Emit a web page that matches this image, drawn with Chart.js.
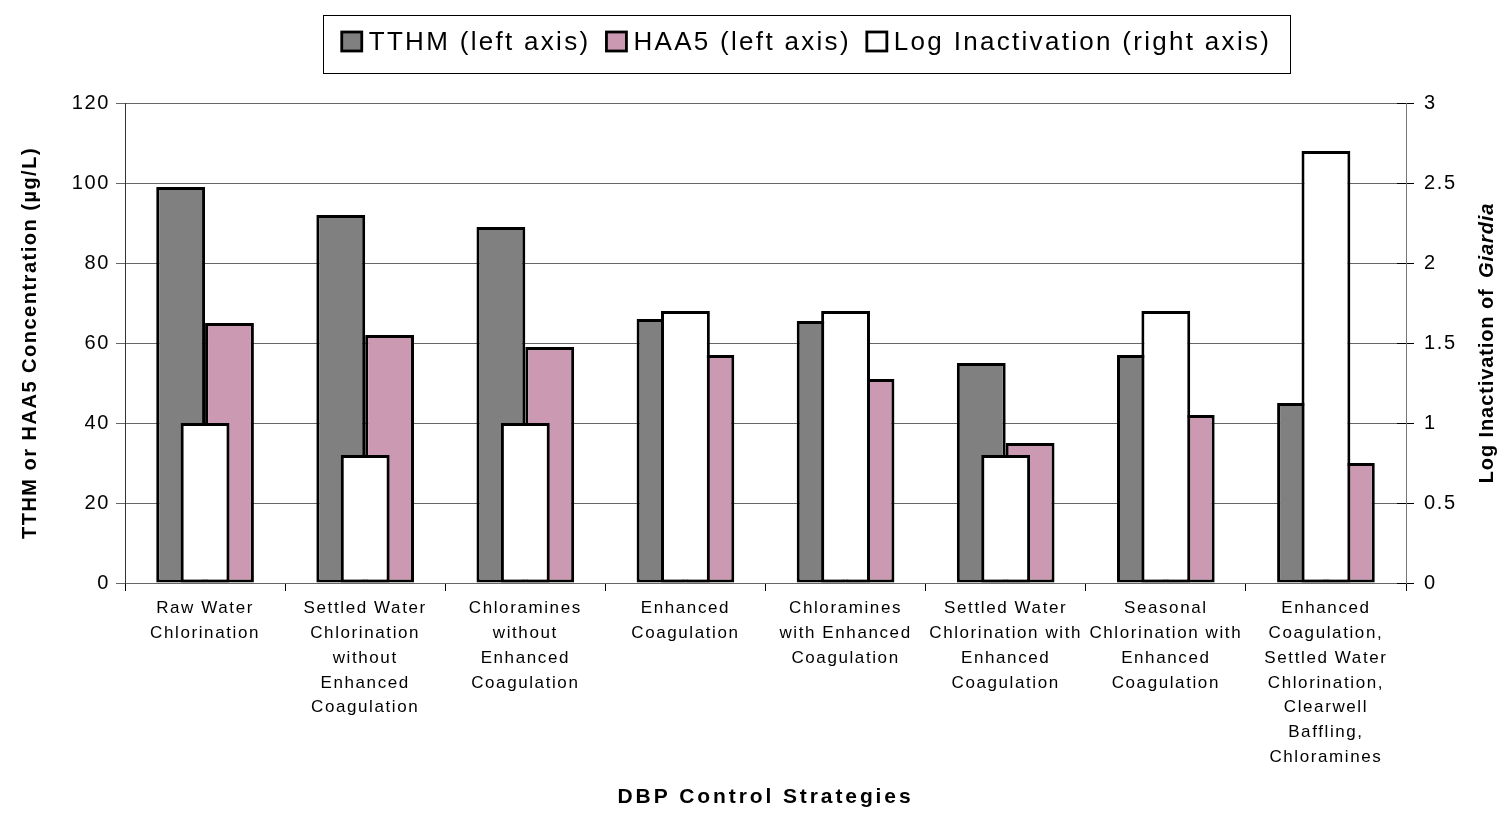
<!DOCTYPE html>
<html>
<head>
<meta charset="utf-8">
<title>DBP Control Strategies</title>
<script src="https://cdn.jsdelivr.net/npm/chart.js@4.4.1/dist/chart.umd.min.js"></script>
<style>
  html, body { margin: 0; padding: 0; background: #fff; }
  #chart { display: block; }
</style>
</head>
<body>
<canvas id="chart" width="1500" height="814"></canvas>
<script>
const strategies = [
  ["Raw Water", "Chlorination"],
  ["Settled Water", "Chlorination", "without", "Enhanced", "Coagulation"],
  ["Chloramines", "without", "Enhanced", "Coagulation"],
  ["Enhanced", "Coagulation"],
  ["Chloramines", "with Enhanced", "Coagulation"],
  ["Settled Water", "Chlorination with", "Enhanced", "Coagulation"],
  ["Seasonal", "Chlorination with", "Enhanced", "Coagulation"],
  ["Enhanced", "Coagulation,", "Settled Water", "Chlorination,", "Clearwell", "Baffling,", "Chloramines"]
];
const seriesNames = ["TTHM (left axis)", "HAA5 (left axis)", "Log Inactivation (right axis)"];
const tthm = [99, 92, 89, 66, 65.5, 55, 57, 45];
const haa5 = [65, 62, 59, 57, 51, 35, 42, 30];
const logInactivation = [1.0, 0.8, 1.0, 1.7, 1.7, 0.8, 1.7, 2.7];
const leftTicks = [0, 20, 40, 60, 80, 100, 120];
const rightTicks = [0, 0.5, 1, 1.5, 2, 2.5, 3];

const FONT = "'Liberation Sans', Arial, sans-serif";
const colors = ["#808080", "#cc99b3", "#ffffff"];

// Excel-style spaced lettering for everything Chart.js draws
const spacing = {
  id: "spacing",
  beforeUpdate(chart) {
    chart.ctx.letterSpacing = "1.6px";
  }
};

// legend box, axis titles and the inner tick marks on the right axis
const decorations = {
  id: "decorations",
  afterDraw(chart) {
    const ctx = chart.ctx;
    const area = chart.chartArea;
    ctx.save();

    // legend
    ctx.font = "26px " + FONT;
    ctx.letterSpacing = "2.3px";
    ctx.textBaseline = "middle";
    ctx.textAlign = "left";
    const sq = 20, gapIn = 7, gapOut = 16;
    const widths = seriesNames.map(t => ctx.measureText(t).width);
    let total = 0;
    widths.forEach((w, i) => { total += sq + gapIn + w + (i ? gapOut : 0); });
    const boxL = 323, boxR = 1290, boxT = 15, boxB = 73;
    ctx.strokeStyle = "#000";
    ctx.lineWidth = 1;
    ctx.strokeRect(boxL + 0.5, boxT + 0.5, boxR - boxL, boxB - boxT);
    let x = (boxL + boxR) / 2 - total / 2;
    const cy = 42;
    seriesNames.forEach((t, i) => {
      ctx.fillStyle = colors[i];
      ctx.fillRect(x, cy - sq / 2, sq, sq - 1);
      ctx.lineWidth = 2.8;
      ctx.strokeStyle = "#000";
      ctx.strokeRect(x, cy - sq / 2, sq, sq - 1);
      ctx.fillStyle = "#000";
      ctx.fillText(t, x + sq + gapIn, cy + 1);
      x += sq + gapIn + widths[i] + gapOut;
    });

    // right axis tick marks reaching into the plot
    const y1 = chart.scales.y1;
    ctx.strokeStyle = "#000";
    ctx.lineWidth = 1;
    rightTicks.forEach(v => {
      const py = Math.round(y1.getPixelForValue(v)) + 0.5;
      ctx.beginPath();
      ctx.moveTo(area.right - 9, py);
      ctx.lineTo(area.right, py);
      ctx.stroke();
    });

    // left axis title
    const midY = (area.top + area.bottom) / 2;
    ctx.fillStyle = "#000";
    ctx.textAlign = "center";
    ctx.font = "bold 20px " + FONT;
    ctx.letterSpacing = "1.5px";
    ctx.save();
    ctx.translate(30, midY);
    ctx.rotate(-Math.PI / 2);
    ctx.fillText("TTHM or HAA5 Concentration (\u00b5g/L)", 0, 0);
    ctx.restore();

    // right axis title, species name in italics
    ctx.save();
    ctx.translate(1487, midY);
    ctx.rotate(-Math.PI / 2);
    ctx.textAlign = "left";
    ctx.letterSpacing = "0.9px";
    const partA = "Log Inactivation of ";
    const partB = "Giardia";
    ctx.font = "bold 20px " + FONT;
    const wA = ctx.measureText(partA).width;
    ctx.font = "italic bold 20px " + FONT;
    const wB = ctx.measureText(partB).width;
    const start = -(wA + 4 + wB) / 2;
    ctx.font = "bold 20px " + FONT;
    ctx.fillText(partA, start, 0);
    ctx.font = "italic bold 20px " + FONT;
    ctx.fillText(partB, start + wA + 4, 0);
    ctx.restore();

    // x axis title
    ctx.font = "bold 21px " + FONT;
    ctx.letterSpacing = "2.9px";
    ctx.fillText("DBP Control Strategies", (area.left + area.right) / 2, 797);

    ctx.restore();
  }
};

new Chart(document.getElementById("chart"), {
  type: "bar",
  data: {
    labels: strategies,
    datasets: [
      {
        label: seriesNames[0],
        data: tthm,
        yAxisID: "y",
        backgroundColor: colors[0],
        borderColor: "#000",
        borderWidth: 3,
        borderSkipped: false,
        categoryPercentage: 0.61,
        barPercentage: 1,
        order: 1
      },
      {
        label: seriesNames[1],
        data: haa5,
        yAxisID: "y",
        backgroundColor: colors[1],
        borderColor: "#000",
        borderWidth: 3,
        borderSkipped: false,
        categoryPercentage: 0.61,
        barPercentage: 1,
        order: 1
      },
      {
        label: seriesNames[2],
        data: logInactivation,
        yAxisID: "y1",
        backgroundColor: colors[2],
        borderColor: "#000",
        borderWidth: 3,
        borderSkipped: false,
        grouped: false,
        categoryPercentage: 0.61,
        barPercentage: 0.5,
        order: 0
      }
    ]
  },
  options: {
    responsive: false,
    animation: false,
    layout: { padding: { top: 103, left: 0, right: 0, bottom: 0 } },
    plugins: {
      legend: { display: false },
      tooltip: { enabled: false },
      title: { display: false }
    },
    scales: {
      x: {
        grid: {
          offset: true,
          drawOnChartArea: false,
          tickLength: 8,
          color: "#000"
        },
        border: { color: "#666" },
        ticks: {
          color: "#000",
          font: { family: FONT, size: 17, lineHeight: 1.46 },
          padding: 5,
          maxRotation: 0,
          autoSkip: false
        },
        afterFit(scale) { scale.height = 231; }
      },
      y: {
        position: "left",
        min: 0,
        max: 120,
        afterBuildTicks(scale) { scale.ticks = leftTicks.map(v => ({ value: v })); },
        grid: { color: "#666", tickLength: 9, lineWidth: 1 },
        border: { color: "#333" },
        ticks: {
          color: "#000",
          font: { family: FONT, size: 20 },
          padding: 6,
          callback: v => String(v)
        },
        afterFit(scale) { scale.width = 125; }
      },
      y1: {
        position: "right",
        min: 0,
        max: 3,
        afterBuildTicks(scale) { scale.ticks = rightTicks.map(v => ({ value: v })); },
        grid: { drawOnChartArea: false, color: "#000", tickLength: 8 },
        border: { color: "#777" },
        ticks: {
          color: "#000",
          font: { family: FONT, size: 20 },
          padding: 10,
          callback: v => String(v)
        },
        afterFit(scale) { scale.width = 94; }
      }
    }
  },
  plugins: [spacing, decorations]
});
</script>
</body>
</html>
